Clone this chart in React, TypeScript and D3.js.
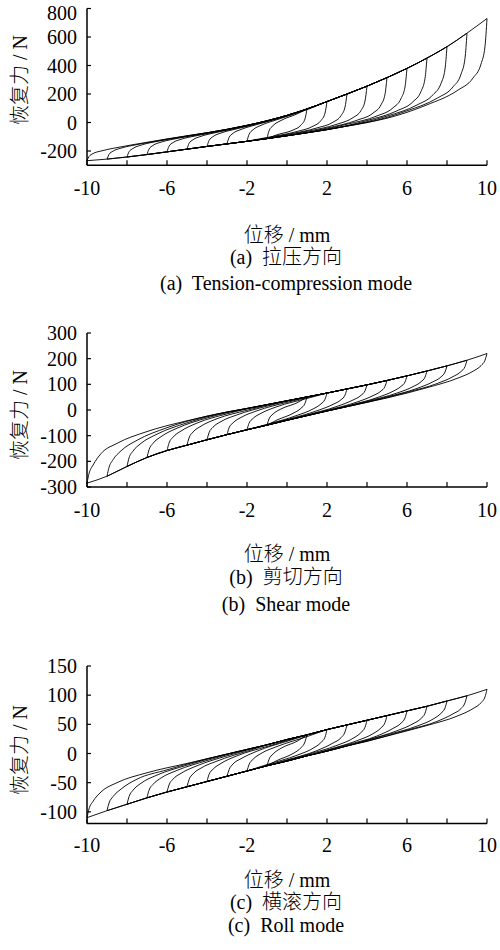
import React from "react";
import * as d3 from "d3";

// displacement grid (mm) shared by the envelope readings
const xGrid = [-10, -9, -8, -7, -6, -5, -4, -3, -2, -1, 0, 1, 2, 3, 4, 5, 6, 7, 8, 9, 10];
// distance (mm) from a reversal point at which the knee values below were read
const kneeOffsets = [0, 0.1, 0.3, 0.7, 1.5, 3, 5];
const amplitudes = [1, 2, 3, 4, 5, 6, 7, 8, 9, 10];
const xTicks = [-10, -8, -6, -4, -2, 0, 2, 4, 6, 8, 10];
const xTickLabels = [-10, -6, -2, 2, 6, 10];

// (a) tension-compression
const tensionUpper = [-268, -191, -163, -139, -116, -93, -72, -48, -20, 12, 50, 95, 147, 200, 255, 315, 380, 452, 532, 627, 730];
const tensionLower = [-268, -257, -242, -225, -206, -187, -168, -150, -132, -113, -93, -72, -50, -25, 0, 30, 65, 105, 150, 200, 255];
const tensionRise = [
  [-113, -59, -22, 14, 60],
  [-132, -84, -51, -20, 20, 90],
  [-150, -106, -76, -49, -14, 46, 147],
  [-168, -127, -99, -74, -44, 8, 95],
  [-187, -147, -121, -97, -69, -24, 50],
  [-206, -167, -141, -118, -92, -52, 12],
  [-225, -187, -161, -138, -112, -76, -20],
  [-242, -206, -182, -159, -133, -96, -48],
  [-257, -224, -201, -180, -155, -117, -72],
  [-268, -239, -218, -200, -176, -139, -93],
];
const tensionDrop = [
  [95, 26, -18, -53, -86],
  [147, 66, 14, -26, -63, -105],
  [200, 108, 48, 2, -38, -84, -132],
  [255, 151, 84, 34, -12, -62, -113],
  [315, 198, 124, 66, 16, -39, -93],
  [380, 250, 168, 103, 46, -12, -72],
  [452, 309, 218, 146, 82, 14, -50],
  [532, 375, 274, 195, 123, 45, -25],
  [627, 451, 339, 250, 170, 82, 0],
  [730, 535, 410, 312, 223, 124, 30],
];
const tensionYTicks = [-200, 0, 200, 400, 600, 800];

// (b) shear
const shearUpper = [-285, -155, -112, -84, -62, -42, -24, -8, 6, 21, 36, 51, 66, 82, 98, 115, 133, 152, 172, 194, 220];
const shearLower = [-285, -258, -220, -185, -158, -137, -116, -96, -77, -59, -40, -22, -4, 13, 30, 47, 65, 83, 102, 122, 145];
const shearRise = [
  [-59, -35, -16, 4, 28],
  [-77, -52, -33, -13, 13, 45],
  [-96, -70, -50, -29, -3, 30, 66],
  [-116, -89, -67, -45, -19, 15, 51],
  [-137, -109, -86, -63, -34, -1, 36],
  [-158, -129, -106, -82, -51, -15, 21],
  [-185, -155, -130, -104, -71, -31, 6],
  [-220, -187, -160, -130, -94, -50, -8],
  [-258, -224, -194, -159, -118, -69, -24],
  [-285, -248, -215, -170, -130, -84, -42],
];
const shearDrop = [
  [51, 26, 7, -13, -39],
  [66, 42, 24, 4, -21, -56],
  [82, 58, 40, 22, -3, -37, -77],
  [98, 75, 57, 39, 14, -19, -59],
  [115, 92, 74, 56, 31, -1, -40],
  [133, 109, 92, 73, 48, 16, -22],
  [152, 128, 110, 91, 66, 34, -4],
  [172, 148, 129, 110, 84, 51, 13],
  [194, 169, 150, 130, 103, 69, 30],
  [220, 194, 173, 151, 123, 87, 47],
];
const shearYTicks = [-300, -200, -100, 0, 100, 200, 300];

// (c) roll
const rollUpper = [-110, -60, -44, -33, -25, -17, -9, -1, 7, 15, 24, 32, 41, 49, 57, 65, 73, 81, 90, 99, 110];
const rollLower = [-110, -98, -87, -76, -66, -57, -48, -39, -30, -21, -13, -4, 4, 13, 21, 30, 38, 46, 54, 63, 73];
const rollRise = [
  [-21, -10, -1, 9, 21],
  [-30, -19, -10, 0, 12, 29],
  [-39, -28, -18, -9, 4, 21, 41],
  [-48, -36, -27, -17, -4, 12, 32],
  [-57, -45, -35, -25, -13, 4, 24],
  [-66, -54, -44, -34, -21, -4, 15],
  [-76, -63, -53, -42, -29, -12, 7],
  [-87, -74, -63, -51, -37, -20, -1],
  [-98, -85, -74, -61, -44, -28, -9],
  [-110, -95, -82, -66, -50, -33, -17],
];
const rollDrop = [
  [32, 20, 10, 0, -12],
  [41, 28, 19, 9, -3, -19],
  [49, 37, 27, 18, 5, -11, -30],
  [57, 45, 36, 26, 14, -2, -21],
  [65, 53, 44, 34, 22, 6, -13],
  [73, 61, 52, 43, 30, 15, -4],
  [81, 69, 60, 51, 39, 23, 4],
  [90, 78, 69, 59, 47, 32, 13],
  [99, 87, 77, 68, 55, 40, 21],
  [110, 97, 87, 77, 64, 48, 30],
];
const rollYTicks = [-100, -50, 0, 50, 100, 150];

type Pt = [number, number];

// loading branch: knee read after the reversal at -A, then the shared upper envelope up to +A
function loading(A: number, knee: number[], upper: number[]): Pt[] {
  const pts: Pt[] = knee.map((y, k) => [-A + kneeOffsets[k], y]);
  const lastX = pts[pts.length - 1][0];
  xGrid.forEach((x, i) => {
    if (x > lastX + 1e-6 && x <= A) pts.push([x, upper[i]]);
  });
  return pts;
}

// unloading branch: knee read after the reversal at +A, then the shared lower envelope down to -A
function unloading(A: number, knee: number[], lower: number[]): Pt[] {
  const pts: Pt[] = knee.map((y, k) => [A - kneeOffsets[k], y]);
  const lastX = pts[pts.length - 1][0];
  xGrid.forEach((x, i) => {
    if (x < lastX - 1e-6 && x >= -A) pts.push([x, lower[i]]);
  });
  return pts.sort((p, q) => p[0] - q[0]);
}

const FONT = "'Liberation Serif', 'Times New Roman', 'Noto Sans CJK SC', serif";
const X0 = 87;
const X1 = 487;

type PanelProps = {
  top: number;
  bottom: number;
  domain: [number, number];
  yTicks: number[];
  upper: number[];
  lower: number[];
  rise: number[][];
  drop: number[][];
  tickY: number;
  labelY: number;
  cap1Y: number;
  cap2Y: number;
  yLabelMid: number;
  cap1: string;
  cap2: string;
};

const Panel = (p: PanelProps) => {
  const x = d3.scaleLinear().domain([-10, 10]).range([X0, X1]);
  const y = d3.scaleLinear().domain(p.domain).range([p.bottom, p.top]);
  const line = d3
    .line<Pt>()
    .x((d) => x(d[0]))
    .y((d) => y(d[1]))
    .curve(d3.curveMonotoneX);

  return (
    <g>
      {amplitudes.map((A, i) => (
        <g key={A} fill="none" stroke="#000" strokeWidth={0.9}>
          <path d={line(loading(A, p.rise[i], p.upper)) || ""} />
          <path d={line(unloading(A, p.drop[i], p.lower)) || ""} />
        </g>
      ))}
      {/* axes */}
      <line x1={X0} x2={X0} y1={p.top} y2={p.bottom} stroke="#000" strokeWidth={1.5} />
      <line x1={X0} x2={X1} y1={p.bottom} y2={p.bottom} stroke="#000" strokeWidth={1.5} />
      {xTicks.map((t) => (
        <line key={t} x1={x(t)} x2={x(t)} y1={p.bottom} y2={p.bottom - 5} stroke="#000" strokeWidth={1.2} />
      ))}
      {p.yTicks.map((t) => (
        <line key={t} x1={X0} x2={X0 + 4} y1={y(t)} y2={y(t)} stroke="#000" strokeWidth={1.2} />
      ))}
      <g fontFamily={FONT} fontSize={20} fill="#000">
        {xTickLabels.map((t) => (
          <text key={t} x={x(t)} y={p.tickY} textAnchor="middle">
            {t}
          </text>
        ))}
        {p.yTicks.map((t) => (
          <text key={t} x={X0 - 10} y={Math.max(y(t) + 7, 20)} textAnchor="end">
            {t}
          </text>
        ))}
        <text x={287} y={p.labelY} textAnchor="middle" fontWeight={300}>
          位移 / mm
        </text>
        <text x={286} y={p.cap1Y} textAnchor="middle" fontWeight={300} style={{ whiteSpace: "pre" }}>
          {p.cap1}
        </text>
        <text x={286} y={p.cap2Y} textAnchor="middle" style={{ whiteSpace: "pre" }}>
          {p.cap2}
        </text>
        <text
          transform={`translate(27,${p.yLabelMid}) rotate(-90)`}
          textAnchor="middle"
          fontWeight={300}
        >
          恢复力 / N
        </text>
      </g>
    </g>
  );
};

export default function App() {
  return (
    <svg
      width={500}
      height={950}
      style={{ position: "absolute", left: 0, top: 0, background: "#fff" }}
    >
      <rect width={500} height={950} fill="#fff" />
      <Panel
        top={8.5}
        bottom={165.25}
        domain={[-300, 800]}
        yTicks={tensionYTicks}
        upper={tensionUpper}
        lower={tensionLower}
        rise={tensionRise}
        drop={tensionDrop}
        tickY={195}
        labelY={242}
        cap1Y={264}
        cap2Y={290}
        yLabelMid={80}
        cap1="(a)  拉压方向"
        cap2="(a)  Tension-compression mode"
      />
      <Panel
        top={333}
        bottom={487}
        domain={[-300, 300]}
        yTicks={shearYTicks}
        upper={shearUpper}
        lower={shearLower}
        rise={shearRise}
        drop={shearDrop}
        tickY={517}
        labelY={561}
        cap1Y={584}
        cap2Y={611}
        yLabelMid={415}
        cap1="(b)  剪切方向"
        cap2="(b)  Shear mode"
      />
      <Panel
        top={666}
        bottom={823.5}
        domain={[-120, 150]}
        yTicks={rollYTicks}
        upper={rollUpper}
        lower={rollLower}
        rise={rollRise}
        drop={rollDrop}
        tickY={852}
        labelY={887}
        cap1Y={909}
        cap2Y={932}
        yLabelMid={750}
        cap1="(c)  横滚方向"
        cap2="(c)  Roll mode"
      />
    </svg>
  );
}
